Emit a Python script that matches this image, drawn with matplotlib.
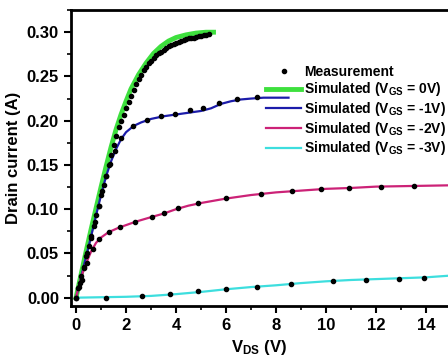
import matplotlib
matplotlib.use("Agg")
import matplotlib.pyplot as plt
from matplotlib.ticker import MultipleLocator

plt.rcParams['font.family'] = ['Liberation Sans', 'DejaVu Sans']
plt.rcParams['font.weight'] = 'bold'
plt.rcParams['mathtext.fontset'] = 'custom'
plt.rcParams['mathtext.rm'] = 'Liberation Sans:bold'
plt.rcParams['mathtext.bf'] = 'Liberation Sans:bold'
plt.rcParams['mathtext.default'] = 'bf'

# simulated curves (V_DS, I_D)
v_0 = [0, 0.2, 0.4, 0.6, 0.8, 1.0, 1.2, 1.4, 1.6, 1.8, 2.0, 2.2, 2.5, 2.8, 3.1, 3.4, 3.7, 4.0, 4.4, 4.8, 5.2, 5.5]
i_0 = [0, 0.026, 0.052, 0.077, 0.101, 0.125, 0.148, 0.170, 0.190, 0.207, 0.222, 0.236, 0.252, 0.265, 0.276, 0.284,
       0.290, 0.294, 0.297, 0.299, 0.300, 0.300]

v_1 = [0, 0.2, 0.4, 0.6, 0.8, 1.0, 1.2, 1.4, 1.6, 1.8, 2.0, 2.3, 2.6, 3.0, 3.5, 4.0, 4.5, 5.0, 5.4, 5.8, 6.2, 6.6,
       7.0, 7.5, 8.0, 8.5]
i_1 = [0, 0.023, 0.046, 0.069, 0.093, 0.116, 0.137, 0.154, 0.168, 0.179, 0.187, 0.194, 0.198, 0.202, 0.205, 0.207,
       0.209, 0.211, 0.214, 0.219, 0.222, 0.224, 0.225, 0.226, 0.226, 0.226]

v_2 = [0, 0.1, 0.2, 0.3, 0.45, 0.6, 0.8, 1.0, 1.3, 1.7, 2.0, 2.4, 3.0, 3.5, 4.0, 4.5, 5.0, 6.0, 7.0, 8.0, 9.0, 10.0,
       11.0, 12.0, 13.0, 14.0, 15.0]
i_2 = [0, 0.012, 0.022, 0.031, 0.042, 0.052, 0.062, 0.068, 0.074, 0.079, 0.082, 0.086, 0.091, 0.095, 0.100, 0.104,
       0.107, 0.112, 0.116, 0.119, 0.121, 0.123, 0.124, 0.1255, 0.126, 0.1265, 0.127]

v_3 = [0, 1, 2, 3, 4, 5, 6, 7, 8, 9, 10, 11, 12, 13, 14, 15]
i_3 = [0, 0.0005, 0.001, 0.002, 0.004, 0.0065, 0.0095, 0.012, 0.014, 0.0165, 0.0185, 0.020, 0.021, 0.022, 0.023, 0.025]

# measured points
mv_0 = [0, 0.1, 0.2, 0.3, 0.4, 0.5, 0.6, 0.7, 0.8, 0.9, 1.0, 1.1, 1.2, 1.3, 1.4, 1.5, 1.6, 1.7, 1.8, 1.9, 2.0, 2.1,
        2.2, 2.3, 2.4, 2.5, 2.6, 2.7, 2.8, 2.9, 3.0, 3.1, 3.2, 3.3, 3.4, 3.5, 3.6, 3.7, 3.8, 3.9, 4.0, 4.1, 4.2, 4.3,
        4.4, 4.5, 4.6, 4.7, 4.8, 4.9, 5.0, 5.1, 5.2, 5.3]
mi_0 = [0, 0.012, 0.024, 0.035, 0.047, 0.058, 0.070, 0.081, 0.093, 0.104, 0.116, 0.127, 0.138, 0.150, 0.161, 0.172,
        0.183, 0.193, 0.200, 0.206, 0.214, 0.221, 0.228, 0.235, 0.241, 0.247, 0.252, 0.257, 0.261, 0.265, 0.268,
        0.271, 0.274, 0.276, 0.278, 0.280, 0.282, 0.284, 0.285, 0.287, 0.288, 0.289, 0.290, 0.291, 0.292, 0.293,
        0.2935, 0.294, 0.295, 0.2955, 0.296, 0.2965, 0.297, 0.2975]

mv_1 = [0.15, 0.3, 0.45, 0.6, 0.75, 0.9, 1.05, 1.2, 1.35, 1.55, 1.8, 2.28, 2.84, 3.4, 3.96, 4.56, 5.07, 5.7, 6.44, 7.24]
mi_1 = [0.017, 0.034, 0.051, 0.068, 0.086, 0.104, 0.121, 0.137, 0.151, 0.166, 0.180, 0.194, 0.201, 0.2055, 0.208,
        0.212, 0.214, 0.220, 0.225, 0.227]

mv_2 = [0.08, 0.23, 0.45, 0.69, 0.92, 1.33, 1.76, 2.36, 3.03, 3.5, 4.07, 4.87, 5.99, 7.39, 8.63, 9.79, 10.92, 12.19,
        13.52]
mi_2 = [0.011, 0.020, 0.039, 0.055, 0.066, 0.0747, 0.080, 0.086, 0.0916, 0.0957, 0.1014, 0.107, 0.1124, 0.1173,
        0.120, 0.1226, 0.124, 0.1256, 0.1263]

mv_3 = [0, 1.2, 2.63, 3.76, 4.89, 5.99, 7.25, 8.59, 10.28, 11.59, 12.92, 13.92]
mi_3 = [0, 0.0, 0.002, 0.004, 0.007, 0.0095, 0.0125, 0.0155, 0.019, 0.0204, 0.021, 0.0226]

fig = plt.figure(figsize=(4.48, 3.6), dpi=100)
ax = fig.add_axes([0.158, 0.15, 0.842, 0.822])

ax.plot(v_0, i_0, color='#3ee03e', lw=3.5, label=r'Simulated (V$_{GS}$ = 0V)', zorder=2)
ax.plot(v_1, i_1, color='#1c1caa', lw=1.6, label=r'Simulated (V$_{GS}$ = -1V)', zorder=2)
ax.plot(v_2, i_2, color='#cc2277', lw=1.6, label=r'Simulated (V$_{GS}$ = -2V)', zorder=2)
ax.plot(v_3, i_3, color='#3ddede', lw=1.6, label=r'Simulated (V$_{GS}$ = -3V)', zorder=2)

for mv, mi in [(mv_0, mi_0), (mv_1, mi_1), (mv_2, mi_2), (mv_3, mi_3)]:
    ax.plot(mv, mi, 'o', color='black', ms=3, zorder=3)
meas, = ax.plot([], [], 'o', color='black', ms=3, label='Measurement')

h, l = ax.get_legend_handles_labels()
order = [4, 0, 1, 2, 3]
ax.legend([h[k] for k in order], [l[k] for k in order], loc='upper left', bbox_to_anchor=(0.518, 0.815),
          frameon=False, fontsize=10, handlelength=2.5, handletextpad=0.2, labelspacing=0.12,
          borderaxespad=0, borderpad=0)

ax.set_xlim(-0.21, 14.88)
ax.set_ylim(-0.0094, 0.325)
ax.xaxis.set_major_locator(MultipleLocator(2))
ax.xaxis.set_minor_locator(MultipleLocator(1))
ax.yaxis.set_major_locator(MultipleLocator(0.05))
ax.yaxis.set_minor_locator(MultipleLocator(0.025))
ax.yaxis.set_major_formatter(matplotlib.ticker.FormatStrFormatter('%.2f'))
ax.tick_params(which='major', direction='out', length=5, width=1.5, labelsize=12)
ax.tick_params(which='minor', direction='out', length=3, width=1.2)
ax.spines['right'].set_visible(False)
for s in ['left', 'bottom', 'top']:
    ax.spines[s].set_linewidth(2)

ax.set_xlabel(r'V$_{DS}$ (V)', fontsize=12, fontweight='bold')
ax.set_ylabel('Drain current (A)', fontsize=12, fontweight='bold')

fig.savefig('out.png', dpi=100)
